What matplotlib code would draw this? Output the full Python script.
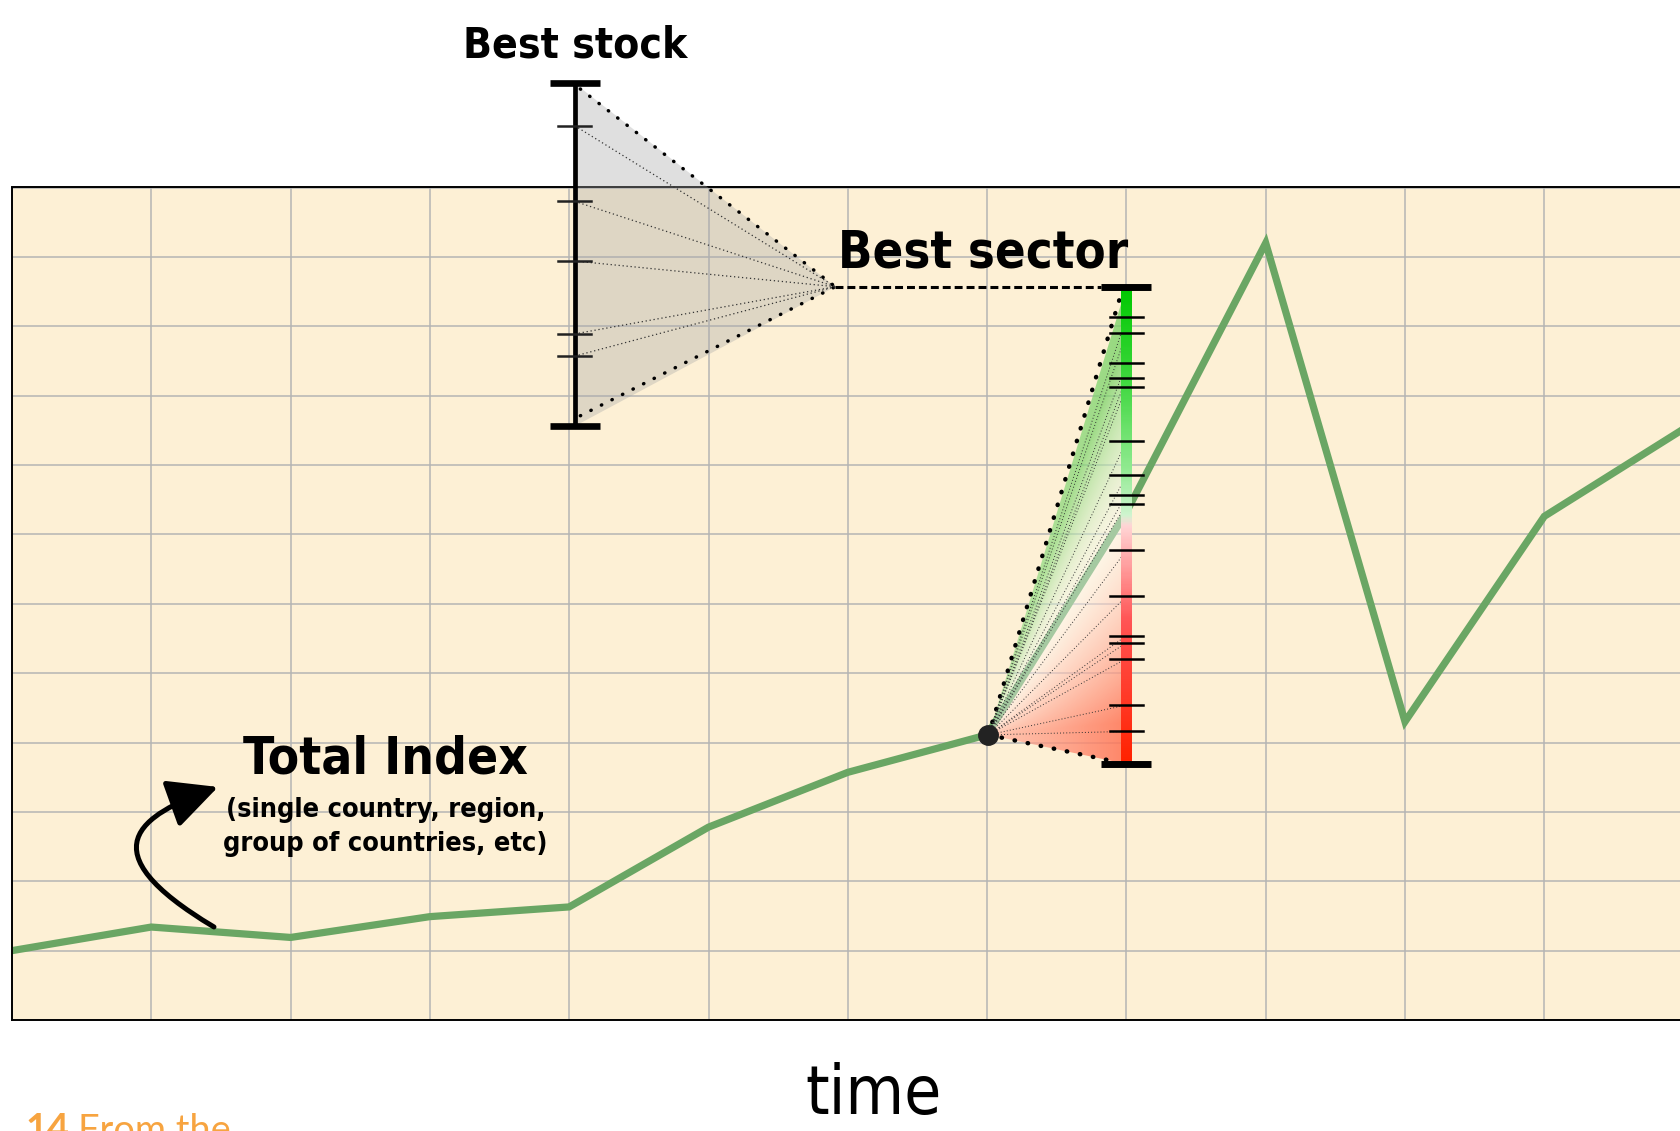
import numpy as np
import matplotlib.pyplot as plt
from matplotlib import font_manager as fm
from matplotlib.colors import LinearSegmentedColormap
from matplotlib.patches import Polygon, FancyArrowPatch
from matplotlib.path import Path

# index line, one value per time step
time_x = np.arange(13)
index_vals = [1.00, 1.34, 1.19, 1.49, 1.63, 2.78, 3.57, 4.11, 7.32, 11.2, 4.3, 7.26, 8.52]

# best stock range bar
stock_x = 4.04
stock_top, stock_bottom = 13.5, 8.56
stock_ticks = [12.89, 11.80, 10.94, 9.89, 9.57]
stock_apex = (5.91, 10.57)

# best sector range bar
sector_x = 8.0
sector_top, sector_bottom = 10.57, 3.69
sector_split = 7.25
sector_ticks = [10.13, 9.90, 9.47, 9.25, 9.12, 8.34, 7.85, 7.57, 7.44,
                6.77, 6.11, 5.54, 5.44, 5.21, 4.54, 4.16]
sector_apex = (7.01, 4.11)

# curved arrow control points
arrow_pts = [(1.450, 1.341), (0.524, 2.450), (0.919, 2.955), (1.479, 3.359)]


def find_narrow(bold):
    # look for any condensed / narrow face that is installed
    for f in fm.fontManager.ttflist:
        name = f.name.lower()
        st = str(f.stretch).lower()
        w = f.weight
        isbold = w in ('bold', 'heavy', 'black', 'demibold') or (isinstance(w, (int, float)) and w >= 600)
        narrow = 'narrow' in name or 'condensed' in name or st in ('condensed', 'semi-condensed')
        if narrow and isbold == bold and f.style == 'normal' and 'cjk' not in name:
            return f.fname
    return None


nb, nr = find_narrow(True), find_narrow(False)
FP_BOLD = fm.FontProperties(fname=nb) if nb else fm.FontProperties(family='DejaVu Sans', weight='bold')
FP_REG = fm.FontProperties(fname=nr) if nr else fm.FontProperties(family='DejaVu Sans')

fig = plt.figure(figsize=(16.8, 11.31), dpi=100)
ax = fig.add_axes([12 / 1680, 111 / 1131, 1671.6 / 1680, 832.5 / 1131])
ax.set_facecolor('#fdf0d5')
ax.set_xlim(0, 12)
ax.set_ylim(0, 12)
ax.set_xticks(np.arange(13))
ax.set_yticks(np.arange(13))
ax.tick_params(length=0, labelbottom=False, labelleft=False)
ax.grid(True, color='#b4b4b4', lw=1.1)
ax.set_axisbelow(True)
for s in ax.spines.values():
    s.set_linewidth(1.4)

# total index line
ax.plot(time_x, index_vals, color='#6aa664', lw=5.2, zorder=2, solid_joinstyle='miter')

# ---- best stock fan ----
fan = Polygon([(stock_x, stock_top), stock_apex, (stock_x, stock_bottom)],
              closed=True, fc='#a8a8a8', alpha=0.36, ec='none', zorder=3, clip_on=False)
ax.add_patch(fan)
for yt in [stock_top - 0.08, stock_bottom + 0.15]:
    ax.plot([stock_x + 0.04, stock_apex[0]], [yt, stock_apex[1]], color='k', lw=2.5,
            ls=(0, (0.1, 3.3)), dash_capstyle='round', zorder=4, clip_on=False)
for yt in stock_ticks:
    ax.plot([stock_x, stock_apex[0]], [yt, stock_apex[1]], color='#333333', lw=0.9,
            ls=(0, (1, 2.2)), zorder=4, clip_on=False)
ax.plot([stock_x, stock_x], [stock_bottom, stock_top], color='k', lw=3.4,
        zorder=5, clip_on=False, solid_capstyle='butt')
for yt in [stock_top, stock_bottom]:
    ax.plot([stock_x - 0.18, stock_x + 0.18], [yt, yt], color='k', lw=4.8,
            zorder=5, clip_on=False, solid_capstyle='butt')
for yt in stock_ticks:
    ax.plot([stock_x - 0.12, stock_x + 0.12], [yt, yt], color='#222222', lw=1.8,
            zorder=5, clip_on=False)

# connector
ax.plot([stock_apex[0], sector_x - 0.18], [stock_apex[1], sector_top], color='k',
        lw=2.2, ls=(0, (2.6, 1.3)), zorder=4)

# ---- best sector fan with angular gradient ----
gx = np.linspace(sector_apex[0], sector_x, 250)
gy = np.linspace(sector_bottom, sector_top, 500)
XX, YY = np.meshgrid(gx, gy)
xr = (XX - sector_apex[0]) / (sector_x - sector_apex[0])
y8 = sector_apex[1] + (YY - sector_apex[1]) / np.maximum(xr, 1e-3)
g = np.clip((y8 - sector_split) / (sector_top - sector_split), 0, 1)
r = np.clip((sector_split - y8) / (sector_split - sector_bottom), 0, 1)
g = np.clip(g * 1.3, 0, 1) * (0.7 + 0.3 * xr)
r = np.clip(r * 1.2, 0, 1) * (0.55 + 0.45 * xr)
img = np.ones(XX.shape + (4,))
green = np.array([0.45, 0.82, 0.38])
red = np.array([1.0, 0.45, 0.33])
for c in range(3):
    img[..., c] = 1 - g * (1 - green[c]) - r * (1 - red[c])
img[..., 3] = 0.4 + 0.35 * g + 0.45 * r
im = ax.imshow(img, extent=[sector_apex[0], sector_x, sector_bottom, sector_top],
               origin='lower', aspect='auto', zorder=3, interpolation='bilinear')
clip = Polygon([sector_apex, (sector_x, sector_top), (sector_x, sector_bottom)],
               closed=True, transform=ax.transData, fc='none', ec='none')
ax.add_patch(clip)
im.set_clip_path(clip)

for (xe, ye) in [(sector_x - 0.03, sector_top - 0.05), (sector_x - 0.14, sector_bottom + 0.06)]:
    ax.plot([sector_apex[0], xe], [sector_apex[1], ye], color='k', lw=3.2,
            ls=(0, (0.1, 2.9)), dash_capstyle='round', zorder=4)
for yt in sector_ticks:
    ax.plot([sector_apex[0], sector_x], [sector_apex[1], yt], color='#333333', lw=0.7,
            ls=(0, (1, 2.2)), zorder=4)

bar_cmap = LinearSegmentedColormap.from_list('sect', [
    (0.0, '#ff2200'), (0.30, '#ff5555'), (0.50, '#ffd6d6'),
    (0.52, '#d0f5d0'), (0.62, '#90ea90'), (0.80, '#40d840'), (1.0, '#00c800')])
bar_y = np.linspace(0, 1, 300).reshape(-1, 1)
ax.imshow(bar_y, cmap=bar_cmap, extent=[sector_x - 0.036, sector_x + 0.036,
          sector_bottom, sector_top], origin='lower', aspect='auto', zorder=5)
for yt in [sector_top, sector_bottom]:
    ax.plot([sector_x - 0.18, sector_x + 0.18], [yt, yt], color='k', lw=5.0,
            zorder=6, solid_capstyle='butt')
for yt in sector_ticks:
    ax.plot([sector_x - 0.12, sector_x + 0.12], [yt, yt], color='k', lw=1.8, zorder=6)

ax.plot(*sector_apex, 'o', color='#222222', ms=14, zorder=7)

ax.set_xlim(0, 12)
ax.set_ylim(0, 12)

# curved arrow
arrow = FancyArrowPatch(path=Path(arrow_pts, [Path.MOVETO, Path.CURVE4, Path.CURVE4, Path.CURVE4]),
                        arrowstyle='-|>,head_length=0.85,head_width=0.42',
                        mutation_scale=36, lw=3.6, color='k', zorder=6,
                        transform=ax.transData)
ax.add_patch(arrow)

# ---- texts ----
t_stock = ax.text(stock_x, 13.88, 'Best stock', ha='center', va='baseline',
                  fontproperties=FP_BOLD, clip_on=False)
t_sector = ax.text(6.97, 10.84, 'Best sector', ha='center', va='baseline',
                   fontproperties=FP_BOLD)
t_total = ax.text(2.68, 3.55, 'Total Index', ha='center', va='baseline',
                  fontproperties=FP_BOLD)
t_sub1 = ax.text(2.68, 2.93, '(single country, region,', ha='center', va='baseline',
                 fontproperties=FP_BOLD)
t_sub2 = ax.text(2.68, 2.43, 'group of countries, etc)', ha='center', va='baseline',
                 fontproperties=FP_BOLD)
t_time = fig.text(874 / 1680, 6 / 1131, 'time', ha='center', va='baseline',
                  fontproperties=FP_REG)
orange = '#f7a440'
t_14 = fig.text(25 / 1680, -8 / 1131, '14', ha='left', va='baseline', color=orange,
                fontproperties=fm.FontProperties(family=['Lato', 'DejaVu Sans'], weight='bold'))
t_from = fig.text(78 / 1680, -8 / 1131, 'From the', ha='left', va='baseline', color=orange,
                  fontproperties=fm.FontProperties(family=['Lato', 'DejaVu Sans']))

# size the texts to the widths seen in the reference
fig.canvas.draw()
rend = fig.canvas.get_renderer()


def fit(t, width_px):
    t.set_fontsize(30)
    w = t.get_window_extent(rend).width
    t.set_fontsize(30 * width_px / w)


fit(t_stock, 224)
fit(t_sector, 290)
fit(t_total, 284)
fit(t_sub2, 325)
t_sub1.set_fontsize(t_sub2.get_fontsize())
fit(t_time, 136)
fit(t_from, 152)
t_14.set_fontsize(t_from.get_fontsize())


def put_top(t, top_px):
    # shift a figure text so that its box top sits at top_px from the image top
    bb = t.get_window_extent(rend)
    x, y = t.get_position()
    y += ((1131 - top_px) - bb.y1) / 1131
    t.set_position((x, y))


put_top(t_time, 1062)
put_top(t_14, 1113)
put_top(t_from, 1113)

fig.savefig('out.png', dpi=100)
